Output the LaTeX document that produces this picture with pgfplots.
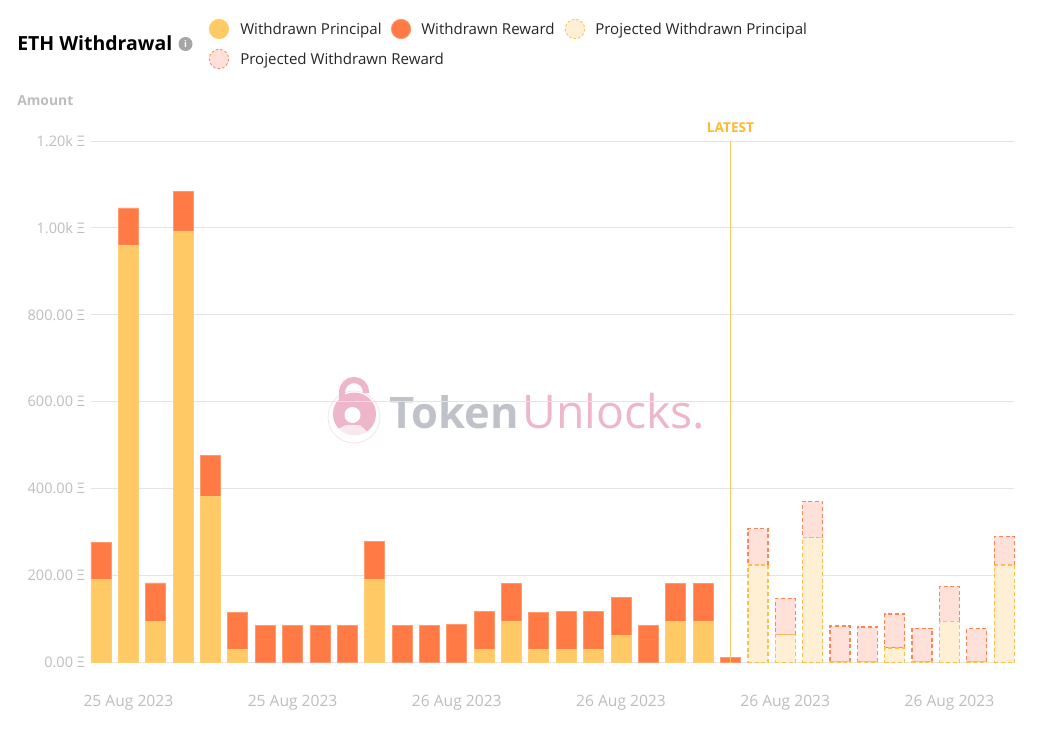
\documentclass[border=0pt]{standalone}
\usepackage{pgfplots}
\usepackage{pgfplotstable}
\usepackage{fontspec}
\pgfplotsset{compat=1.18}
\setmainfont{Open Sans}
\definecolor{gridc}{HTML}{E4E4E4}
\definecolor{tick}{HTML}{BDBDBD}
\definecolor{prin}{HTML}{FFC966}
\definecolor{prinE}{HTML}{FFCF78}
\definecolor{rew}{HTML}{FF7A45}
\definecolor{rewE}{HTML}{FF9A70}
\definecolor{pprin}{HTML}{FFEFD5}
\definecolor{pprinE}{HTML}{FFBE4D}
\definecolor{prew}{HTML}{FFE1D9}
\definecolor{prewE}{HTML}{FF8558}
\definecolor{latest}{HTML}{FFC766}
\definecolor{latestT}{HTML}{FFB92E}
\definecolor{wmpink}{HTML}{EDB6CA}
\definecolor{wmgray}{HTML}{BFC3C9}
\pgfplotstableread{
x principal reward
0 192 85
1 960 86
2 95 88
3 993 90
4 383 93
5 31 85
6 0 85
7 0 85.5
8 0 85
9 0 85
10 192 86
11 0 85
12 0 86
13 0 87
14 31 87
15 95 86
16 31 85
17 31 86
18 31 86
19 63 86
20 0 85
21 95 86
22 95 86
23 0 12
}\actual
\pgfplotstableread{
x principal reward
24 224 84
25 64 84
26 287 84
27 2 82
28 2 80
29 33 79
30 2 77
31 95 80
32 2 76
33 224 66
}\projected
\pgfplotsset{base/.style={
  at={(67.875pt,49.875pt)},anchor=south west,
  scale only axis,width=692.625pt,height=391.1pt,
  xmin=-0.3836,xmax=33.36,ymin=0,ymax=1200,
  ybar stacked,bar width=15pt,clip=false,
  axis line style={draw=none},
  tick style={draw=none},
}}
\begin{document}
\begin{tikzpicture}
\path[use as bounding box] (0,0) rectangle (777.75pt,546.75pt);
\begin{scope}[shift={(0,546.75pt)},x=0.75pt,y=-0.75pt]
% watermark
\draw[wmpink!35,line width=0.7pt] (354,417) circle[radius=26];
\draw[wmpink,line width=4.6pt] (342,402) -- (342,392) arc[start angle=180,end angle=360,radius=12] -- (366,393);
\fill[wmpink] (354.5,414) circle[radius=21.5];
\fill[white] (352.5,415) circle[radius=8];
\fill[white,opacity=.7] (346,425) -- (360,425) -- (367,431.5) arc[start angle=37,end angle=143,radius=21.5] -- cycle;
\node[anchor=base west,inner sep=0pt,text=wmgray,font=\fontsize{32.6pt}{36pt}\bfseries\selectfont] at (389,428) {Token};
\node[anchor=base west,inner sep=0pt,text=wmpink,font=\fontsize{34.8pt}{36pt}\selectfont] at (522,428) {Unlocks.};
% header
\node[anchor=base west,inner sep=0pt,font=\fontsize{14.6pt}{16pt}\bfseries\selectfont] at (17,51) {ETH Withdrawal};
\fill[black!35] (185.5,44) circle[radius=7];
\node[text=white,inner sep=0pt,font=\fontsize{7pt}{8pt}\bfseries\selectfont] at (185.5,44) {i};
\node[anchor=base west,inner sep=0pt,text=tick,font=\fontsize{10.4pt}{12pt}\bfseries\selectfont] at (17,105.5) {Amount};
% legend
\filldraw[fill=prin,draw=prinE,line width=.6pt] (219,29) circle[radius=9.7];
\filldraw[fill=rew,draw=rewE,line width=.6pt] (401,29) circle[radius=9.7];
\filldraw[fill=pprin,draw=pprinE,line width=.6pt,dash pattern=on 2pt off 1.5pt] (575,29) circle[radius=9.7];
\filldraw[fill=prew,draw=prewE,line width=.6pt,dash pattern=on 2pt off 1.5pt] (219,59) circle[radius=9.7];
\foreach \X/\Y/\T in {240/35/Withdrawn Principal,421/35/Withdrawn Reward,595/35/Projected Withdrawn Principal,240/65/Projected Withdrawn Reward}
  \node[anchor=base west,inner sep=0pt,text=black!85,font=\fontsize{11.3pt}{13pt}\selectfont] at (\X,\Y) {\T};
\end{scope}
\begin{axis}[base,
  ytick={0,200,400,600,800,1000,1200},
  yticklabels={0.00 Ξ,200.00 Ξ,400.00 Ξ,600.00 Ξ,800.00 Ξ,1.00k Ξ,1.20k Ξ},
  yticklabel style={text=tick,font=\fontsize{10.9pt}{13pt}\selectfont,xshift=-4pt,inner sep=0pt,anchor=east},
  ymajorgrids,grid style={gridc,line width=.75pt},
  xtick={1,7,13,19,25,31},
  xticklabels={25 Aug 2023,25 Aug 2023,26 Aug 2023,26 Aug 2023,26 Aug 2023,26 Aug 2023},
  xticklabel style={text=tick,font=\fontsize{11.7pt}{13pt}\selectfont,yshift=-24pt,inner sep=0pt},
]
\addplot[fill=prin,draw=prinE,line width=.6pt] table[x=x,y=principal] {\actual};
\addplot[fill=rew,draw=rewE,line width=.6pt] table[x=x,y=reward] {\actual};
\end{axis}
\begin{axis}[base,hide axis]
\addplot[fill=pprin,draw=pprinE,line width=1pt,dash pattern=on 3pt off 2pt] table[x=x,y=principal] {\projected};
\addplot[fill=prew,draw=prewE,line width=1pt,dash pattern=on 3pt off 2pt] table[x=x,y=reward] {\projected};
\draw[latest,line width=1.3pt] (axis cs:23,0) -- (axis cs:23,1200);
\node[anchor=south,inner sep=0pt,text=latestT,font=\fontsize{10.2pt}{12pt}\bfseries\selectfont,yshift=6pt] at (axis cs:23,1200) {LATEST};
\end{axis}
\end{tikzpicture}
\end{document}
